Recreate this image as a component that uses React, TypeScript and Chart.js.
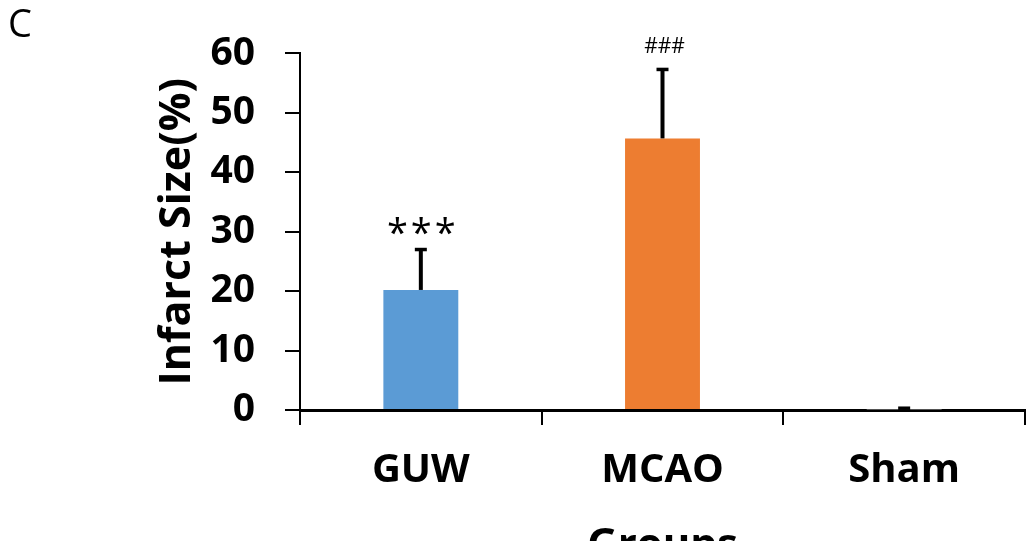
import React, { useEffect, useRef } from 'react';
import { Chart, registerables } from 'chart.js';

Chart.register(...registerables);

// ---- data ----
const categories = ['GUW', 'MCAO', 'Sham'];
const meanValues = [20.2, 45.7, 0.1];
const errorValues = [6.8, 11.6, 0.2];
const significance = ['***', '###', ''];
const yTickValues = [0, 10, 20, 30, 40, 50, 60];

// ---- styles ----
const barColors = ['#5B9BD5', '#ED7D31', '#A5A5A5'];
const FONT = "'Open Sans', 'Noto Sans', sans-serif";
const annotationStyle = [
  { size: 38, gap: 4, spacing: '3px' },
  { size: 21, gap: 16, spacing: '0px' },
  { size: 21, gap: 16, spacing: '0px' },
];

const errorBarPlugin = {
  id: 'errorBars',
  afterDatasetsDraw(chart: any) {
    const meta = chart.getDatasetMeta(0);
    const yScale = chart.scales.y;
    const ctx = chart.ctx;
    ctx.save();
    ctx.strokeStyle = '#000';
    ctx.fillStyle = '#000';
    meta.data.forEach((bar: any, i: number) => {
      const top = yScale.getPixelForValue(meanValues[i] + errorValues[i]);
      const base = yScale.getPixelForValue(meanValues[i]);
      ctx.lineWidth = 4;
      ctx.beginPath();
      ctx.moveTo(bar.x, base);
      ctx.lineTo(bar.x, top);
      ctx.stroke();
      ctx.lineWidth = 3.5;
      ctx.beginPath();
      ctx.moveTo(bar.x - 6, top);
      ctx.lineTo(bar.x + 6, top);
      ctx.stroke();
      const label = significance[i];
      if (label) {
        const st = annotationStyle[i];
        ctx.font = `${st.size}px ${FONT}`;
        try { (ctx as any).letterSpacing = st.spacing; } catch (e) {}
        ctx.textAlign = 'center';
        ctx.textBaseline = 'alphabetic';
        ctx.fillText(label, bar.x + 2, top - st.gap);
        try { (ctx as any).letterSpacing = '0px'; } catch (e) {}
      }
    });
    ctx.restore();
  },
};

const panelLabelPlugin = {
  id: 'panelLabel',
  afterDraw(chart: any) {
    const ctx = chart.ctx;
    ctx.save();
    ctx.fillStyle = '#000';
    ctx.font = `38px ${FONT}`;
    ctx.textAlign = 'left';
    ctx.textBaseline = 'alphabetic';
    ctx.fillText('C', 8, 37);
    ctx.restore();
  },
};

export default function App() {
  const canvasRef = useRef<HTMLCanvasElement | null>(null);

  useEffect(() => {
    let chart: Chart | null = null;
    let cancelled = false;
    const make = () => {
      if (cancelled || !canvasRef.current) return;
      chart = new Chart(canvasRef.current, {
        type: 'bar',
        data: {
          labels: categories,
          datasets: [
            {
              data: meanValues,
              backgroundColor: barColors,
              borderWidth: 0,
              categoryPercentage: 1,
              barPercentage: 0.31,
            },
          ],
        },
        options: {
          responsive: false,
          animation: false,
          layout: { padding: { top: 51, right: 6, left: 0, bottom: 0 } },
          plugins: {
            legend: { display: false },
            tooltip: { enabled: false },
          },
          scales: {
            x: {
              offset: true,
              grid: {
                display: true,
                offset: true,
                drawOnChartArea: false,
                drawTicks: true,
                tickLength: 15,
                color: '#000',
                lineWidth: 2,
              },
              border: { display: true, color: '#000', width: 3 },
              ticks: {
                color: '#000',
                font: { family: FONT, weight: 'bold', size: 40 },
                padding: 22,
                maxRotation: 0,
              },
              title: {
                display: true,
                text: 'Groups',
                color: '#000',
                font: { family: FONT, weight: 'bold', size: 42 },
                padding: { top: 0, bottom: -30 },
              },
              afterFit(scale: any) {
                scale.height = 131;
              },
            },
            y: {
              min: 0,
              max: 60,
              afterBuildTicks(scale: any) {
                scale.ticks = yTickValues.map((v) => ({ value: v }));
              },
              ticks: {
                color: '#000',
                font: { family: FONT, weight: 'bold', size: 39 },
                padding: 30,
              },
              grid: {
                drawOnChartArea: false,
                drawTicks: true,
                tickLength: 15,
                color: '#000',
                lineWidth: 2,
              },
              border: { display: true, color: '#000', width: 2 },
              title: {
                display: true,
                text: 'Infarct Size(%)',
                color: '#000',
                font: { family: FONT, weight: 'bold', size: 43 },
                padding: { top: 152, bottom: 0 },
              },
              afterFit(scale: any) {
                scale.width = 300;
              },
            },
          },
        } as any,
        plugins: [errorBarPlugin, panelLabelPlugin],
      });
    };
    const fonts: any = (document as any).fonts;
    if (fonts && fonts.load) {
      Promise.all([
        fonts.load(`bold 40px ${FONT}`),
        fonts.load(`37px ${FONT}`),
      ]).then(make, make);
    } else {
      make();
    }
    return () => {
      cancelled = true;
      if (chart) chart.destroy();
    };
  }, []);

  return (
    <div style={{ position: 'absolute', left: 0, top: 0, width: 1031, height: 541, background: '#fff' }}>
      <canvas ref={canvasRef} width={1031} height={541} style={{ display: 'block' }} />
    </div>
  );
}
